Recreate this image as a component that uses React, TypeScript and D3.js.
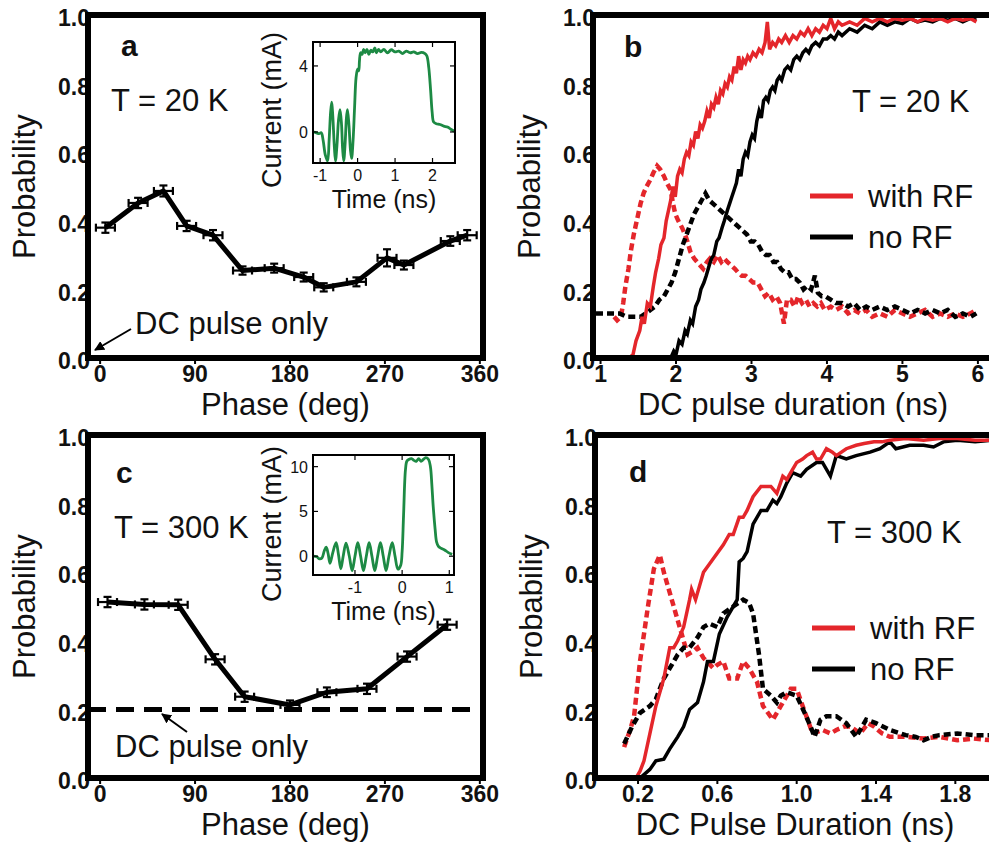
import { useEffect, useRef } from 'react';
import * as d3 from 'd3';

type Pt = [number, number];
type Box = { left: number; right: number; top: number; bottom: number };

const FONT = "'Liberation Sans', Arial, Helvetica, sans-serif";
const RED = '#e4262b';
const GREEN = '#1d8a44';

// ---- axis ticks ----
const probTicks = [0, 0.2, 0.4, 0.6, 0.8, 1.0];
const phaseTicks = [0, 90, 180, 270, 360];
const durationTicksB = [1, 2, 3, 4, 5, 6];
const durationTicksD = [0.2, 0.6, 1.0, 1.4, 1.8];

// ---- panel a: T = 20 K, probability vs phase ----
const phaseA = [5, 36, 60, 82, 107, 135, 165, 193, 212, 243, 272, 288, 332, 348];
const probA = [0.38, 0.452, 0.487, 0.385, 0.358, 0.255, 0.262, 0.236, 0.206, 0.222, 0.292, 0.271, 0.341, 0.358];
const errA = [0.015, 0.015, 0.016, 0.015, 0.015, 0.012, 0.013, 0.013, 0.012, 0.013, 0.025, 0.013, 0.014, 0.015];

// ---- panel c: T = 300 K ----
const phaseC = [7, 42, 74, 109, 137, 180, 215, 253, 291, 329];
const probC = [0.513, 0.506, 0.505, 0.346, 0.237, 0.213, 0.25, 0.26, 0.354, 0.447];
const errC = [0.015, 0.015, 0.015, 0.015, 0.015, 0.013, 0.014, 0.015, 0.015, 0.015];
const dcOnlyC = 0.2;

// ---- insets: pulse waveforms (time ns, current mA) ----
const insetA: Pt[] = [
  [-1.17, 0.0], [-1.1, -0.05], [-1.03, -0.1], [-0.97, -0.05], [-0.92, -0.5], [-0.86, -1.4], [-0.8, -1.75],
  [-0.76, -0.5], [-0.72, 1.2], [-0.69, 1.8], [-0.66, 0.9], [-0.62, -0.9], [-0.59, -1.75], [-0.55, -0.8],
  [-0.51, 0.7], [-0.47, 1.35], [-0.43, 0.5], [-0.4, -1.0], [-0.37, -1.75], [-0.33, -0.6], [-0.3, 0.8],
  [-0.27, 1.35], [-0.23, 0.4], [-0.19, -1.1], [-0.16, -1.6], [-0.12, -0.5], [-0.08, 1.5], [-0.04, 3.3],
  [0.0, 3.8], [0.03, 3.7], [0.05, 4.3], [0.08, 4.8], [0.12, 4.7], [0.16, 5.0], [0.2, 4.8], [0.25, 5.0],
  [0.3, 4.7], [0.35, 4.95], [0.4, 4.85], [0.46, 5.1], [0.5, 4.8], [0.56, 5.0], [0.62, 4.85], [0.7, 5.0],
  [0.8, 4.8], [0.9, 4.98], [1.0, 4.85], [1.1, 4.9], [1.2, 4.75], [1.3, 4.9], [1.4, 4.8], [1.5, 4.85],
  [1.6, 4.75], [1.7, 4.82], [1.8, 4.75], [1.85, 4.6], [1.9, 3.9], [1.95, 2.5], [1.99, 1.2], [2.03, 0.6],
  [2.1, 0.5], [2.2, 0.45], [2.3, 0.35], [2.4, 0.3], [2.5, 0.15], [2.58, 0.05],
];
const insetC: Pt[] = [
  [-1.89, 0.0], [-1.81, -0.07], [-1.75, -0.3], [-1.7, -0.2], [-1.65, 0.6], [-1.61, 1.0], [-1.57, 0.3],
  [-1.53, -0.8], [-1.47, 0.4], [-1.4, 1.5], [-1.35, 0.2], [-1.3, -1.4], [-1.25, 0.0], [-1.19, 1.45],
  [-1.12, 0.0], [-1.06, -1.6], [-1.0, 0.0], [-0.94, 1.5], [-0.88, 0.0], [-0.82, -1.6], [-0.76, 0.0],
  [-0.7, 1.5], [-0.64, 0.0], [-0.58, -1.6], [-0.52, 0.0], [-0.46, 1.5], [-0.4, 0.0], [-0.34, -1.6],
  [-0.28, 0.0], [-0.21, 1.5], [-0.15, 0.0], [-0.09, -1.45], [-0.03, -1.0], [0.0, 0.5], [0.03, 4.5],
  [0.07, 9.6], [0.1, 10.6], [0.14, 10.8], [0.2, 10.9], [0.25, 10.7], [0.3, 10.6], [0.35, 10.9],
  [0.4, 10.6], [0.45, 10.8], [0.5, 11.0], [0.56, 10.8], [0.6, 10.0], [0.63, 8.0], [0.66, 5.5],
  [0.7, 3.0], [0.73, 1.6], [0.77, 1.1], [0.82, 0.9], [0.9, 0.7], [0.98, 0.4], [1.06, 0.2],
];

// ---- panel b: T = 20 K vs DC pulse duration ----
const bWithRf: Pt[] = [
  [1.22, 0], [1.3, 0], [1.38, 0], [1.43, 0.01], [1.47, 0.05], [1.52, 0.08], [1.55, 0.12], [1.58, 0.1],
  [1.62, 0.16], [1.66, 0.15], [1.7, 0.21], [1.73, 0.25], [1.77, 0.29], [1.8, 0.33], [1.84, 0.35],
  [1.87, 0.4], [1.9, 0.43], [1.93, 0.46], [1.96, 0.5], [1.99, 0.47], [2.02, 0.53], [2.05, 0.55],
  [2.08, 0.54], [2.11, 0.58], [2.14, 0.6], [2.17, 0.59], [2.2, 0.63], [2.23, 0.62], [2.26, 0.66],
  [2.29, 0.64], [2.32, 0.68], [2.35, 0.67], [2.38, 0.69], [2.41, 0.72], [2.44, 0.7], [2.47, 0.74],
  [2.5, 0.73], [2.53, 0.76], [2.56, 0.74], [2.59, 0.78], [2.62, 0.77], [2.65, 0.8], [2.68, 0.79],
  [2.71, 0.82], [2.74, 0.81], [2.77, 0.85], [2.8, 0.83], [2.83, 0.88], [2.86, 0.84], [2.89, 0.87],
  [2.92, 0.86], [2.95, 0.88], [2.98, 0.87], [3.02, 0.89], [3.06, 0.88], [3.1, 0.9], [3.14, 0.89],
  [3.18, 0.92], [3.21, 0.98], [3.24, 0.9], [3.28, 0.92], [3.32, 0.91], [3.36, 0.93], [3.4, 0.92],
  [3.45, 0.94], [3.5, 0.92], [3.55, 0.94], [3.6, 0.93], [3.65, 0.95], [3.7, 0.94], [3.75, 0.96],
  [3.8, 0.94], [3.85, 0.96], [3.9, 0.95], [3.95, 0.97], [4.0, 0.96], [4.05, 0.99], [4.1, 0.96],
  [4.15, 0.98], [4.2, 0.97], [4.3, 0.98], [4.4, 0.97], [4.5, 0.99], [4.6, 0.98], [4.7, 0.99],
  [4.8, 0.98], [4.9, 0.99], [5.0, 0.985], [5.1, 0.99], [5.2, 0.98], [5.3, 0.99], [5.4, 0.985],
  [5.5, 0.99], [5.6, 0.98], [5.7, 0.99], [5.8, 0.985], [5.9, 0.99], [5.98, 0.98],
];
const bNoRf: Pt[] = [
  [1.75, 0], [1.85, 0], [1.93, 0], [1.97, 0.02], [2.0, 0.01], [2.04, 0.05], [2.08, 0.04], [2.12, 0.08],
  [2.15, 0.07], [2.19, 0.11], [2.22, 0.1], [2.26, 0.15], [2.3, 0.17], [2.33, 0.2], [2.37, 0.22],
  [2.4, 0.24], [2.44, 0.27], [2.47, 0.29], [2.5, 0.3], [2.54, 0.34], [2.57, 0.35], [2.61, 0.38],
  [2.64, 0.4], [2.68, 0.43], [2.71, 0.45], [2.74, 0.47], [2.77, 0.49], [2.8, 0.51], [2.83, 0.55],
  [2.86, 0.53], [2.89, 0.58], [2.92, 0.6], [2.95, 0.59], [2.98, 0.63], [3.01, 0.65], [3.04, 0.64],
  [3.07, 0.69], [3.1, 0.72], [3.13, 0.7], [3.16, 0.75], [3.19, 0.76], [3.22, 0.75], [3.25, 0.78],
  [3.28, 0.79], [3.31, 0.78], [3.34, 0.81], [3.37, 0.82], [3.4, 0.81], [3.44, 0.84], [3.48, 0.85],
  [3.52, 0.84], [3.56, 0.87], [3.6, 0.88], [3.64, 0.87], [3.68, 0.89], [3.72, 0.9], [3.76, 0.89],
  [3.8, 0.91], [3.85, 0.92], [3.9, 0.91], [3.95, 0.93], [4.0, 0.93], [4.05, 0.94], [4.1, 0.93],
  [4.15, 0.95], [4.2, 0.94], [4.3, 0.96], [4.4, 0.95], [4.5, 0.97], [4.6, 0.96], [4.7, 0.98],
  [4.8, 0.97], [4.9, 0.98], [5.0, 0.975], [5.1, 0.99], [5.2, 0.98], [5.3, 0.985], [5.4, 0.98],
  [5.5, 0.99], [5.6, 0.985], [5.7, 0.99], [5.8, 0.98], [5.9, 0.99], [5.98, 0.985],
];
const bWithRfDash: Pt[] = [
  [1.18, 0.12], [1.22, 0.11], [1.27, 0.12], [1.3, 0.16], [1.33, 0.21], [1.37, 0.26], [1.4, 0.31],
  [1.44, 0.36], [1.49, 0.41], [1.53, 0.45], [1.57, 0.48], [1.61, 0.5], [1.66, 0.52], [1.7, 0.54],
  [1.75, 0.56], [1.79, 0.55], [1.84, 0.53], [1.88, 0.51], [1.93, 0.49], [1.96, 0.45], [1.99, 0.42],
  [2.03, 0.4], [2.08, 0.38], [2.12, 0.36], [2.15, 0.34], [2.19, 0.31], [2.24, 0.29], [2.28, 0.28],
  [2.32, 0.27], [2.36, 0.26], [2.41, 0.28], [2.45, 0.29], [2.5, 0.28], [2.55, 0.3], [2.6, 0.28],
  [2.64, 0.29], [2.68, 0.28], [2.73, 0.27], [2.78, 0.26], [2.82, 0.25], [2.87, 0.24], [2.92, 0.24],
  [2.97, 0.23], [3.02, 0.22], [3.08, 0.22], [3.13, 0.2], [3.18, 0.18], [3.23, 0.19], [3.28, 0.17],
  [3.33, 0.18], [3.38, 0.16], [3.43, 0.1], [3.47, 0.17], [3.52, 0.17], [3.57, 0.15], [3.62, 0.18],
  [3.67, 0.16], [3.72, 0.17], [3.77, 0.15], [3.82, 0.16], [3.87, 0.15], [3.92, 0.16], [3.97, 0.14],
  [4.05, 0.15], [4.12, 0.14], [4.2, 0.15], [4.28, 0.13], [4.36, 0.14], [4.44, 0.13], [4.52, 0.14],
  [4.6, 0.12], [4.7, 0.13], [4.8, 0.12], [4.9, 0.14], [5.0, 0.13], [5.1, 0.12], [5.2, 0.13],
  [5.3, 0.14], [5.4, 0.12], [5.5, 0.13], [5.6, 0.12], [5.7, 0.13], [5.8, 0.12], [5.9, 0.13], [5.98, 0.14],
];
const bNoRfDash: Pt[] = [
  [0.94, 0.13], [1.05, 0.13], [1.15, 0.13], [1.25, 0.13], [1.35, 0.12], [1.45, 0.12], [1.53, 0.12],
  [1.6, 0.13], [1.66, 0.14], [1.72, 0.15], [1.78, 0.17], [1.84, 0.18], [1.89, 0.2], [1.94, 0.22],
  [1.99, 0.25], [2.04, 0.29], [2.09, 0.33], [2.14, 0.36], [2.19, 0.39], [2.24, 0.42], [2.29, 0.44],
  [2.34, 0.46], [2.39, 0.48], [2.44, 0.46], [2.49, 0.45], [2.54, 0.44], [2.59, 0.43], [2.64, 0.42],
  [2.69, 0.41], [2.74, 0.4], [2.79, 0.39], [2.84, 0.38], [2.89, 0.37], [2.94, 0.36], [2.99, 0.34],
  [3.04, 0.34], [3.09, 0.33], [3.14, 0.31], [3.19, 0.3], [3.24, 0.3], [3.29, 0.28], [3.34, 0.28],
  [3.39, 0.26], [3.44, 0.25], [3.49, 0.25], [3.54, 0.23], [3.59, 0.23], [3.64, 0.22], [3.69, 0.2],
  [3.74, 0.21], [3.79, 0.2], [3.84, 0.24], [3.88, 0.19], [3.93, 0.18], [3.98, 0.18], [4.05, 0.17],
  [4.12, 0.16], [4.2, 0.16], [4.28, 0.15], [4.36, 0.16], [4.44, 0.14], [4.52, 0.15], [4.6, 0.14],
  [4.7, 0.15], [4.8, 0.14], [4.9, 0.15], [5.0, 0.14], [5.1, 0.13], [5.2, 0.14], [5.3, 0.13],
  [5.4, 0.14], [5.5, 0.13], [5.6, 0.14], [5.7, 0.12], [5.8, 0.13], [5.9, 0.12], [5.98, 0.13],
];

// ---- panel d: T = 300 K vs DC pulse duration ----
const dWithRf: Pt[] = [
  [0.09, 0], [0.14, 0], [0.19, 0], [0.21, 0.02], [0.23, 0.05], [0.26, 0.13], [0.29, 0.21], [0.33, 0.29],
  [0.36, 0.38], [0.38, 0.38], [0.4, 0.4], [0.43, 0.44], [0.46, 0.52], [0.47, 0.55], [0.49, 0.52],
  [0.53, 0.6], [0.58, 0.64], [0.63, 0.68], [0.66, 0.71], [0.68, 0.71], [0.71, 0.76], [0.73, 0.76],
  [0.75, 0.78], [0.78, 0.82], [0.82, 0.85], [0.87, 0.85], [0.9, 0.83], [0.93, 0.88], [0.95, 0.87],
  [0.97, 0.89], [1.0, 0.92], [1.03, 0.93], [1.05, 0.94], [1.08, 0.95], [1.1, 0.93], [1.12, 0.93],
  [1.15, 0.96], [1.18, 0.95], [1.2, 0.94], [1.25, 0.96], [1.3, 0.97], [1.34, 0.975], [1.39, 0.98],
  [1.43, 0.98], [1.47, 0.985], [1.55, 0.99], [1.64, 0.985], [1.72, 0.99], [1.81, 0.99], [1.9, 0.985], [1.98, 0.985],
];
const dNoRf: Pt[] = [
  [0.09, 0], [0.15, 0], [0.21, 0], [0.24, 0.015], [0.26, 0.025], [0.29, 0.05], [0.33, 0.055],
  [0.36, 0.085], [0.4, 0.12], [0.43, 0.15], [0.46, 0.2], [0.5, 0.22], [0.53, 0.28], [0.55, 0.34],
  [0.58, 0.34], [0.61, 0.42], [0.65, 0.47], [0.68, 0.5], [0.7, 0.52], [0.71, 0.63], [0.73, 0.64],
  [0.75, 0.66], [0.78, 0.74], [0.82, 0.78], [0.85, 0.78], [0.88, 0.81], [0.9, 0.8], [0.92, 0.82],
  [0.95, 0.86], [0.98, 0.89], [1.02, 0.88], [1.05, 0.9], [1.1, 0.92], [1.13, 0.92], [1.17, 0.88],
  [1.2, 0.94], [1.25, 0.93], [1.3, 0.94], [1.37, 0.95], [1.42, 0.96], [1.47, 0.98], [1.5, 0.96],
  [1.57, 0.97], [1.64, 0.97], [1.69, 0.965], [1.74, 0.98], [1.81, 0.985], [1.9, 0.98], [1.98, 0.985],
];
const dWithRfDash: Pt[] = [
  [0.13, 0.09], [0.16, 0.14], [0.18, 0.18], [0.21, 0.34], [0.25, 0.5], [0.28, 0.61], [0.31, 0.65],
  [0.33, 0.6], [0.35, 0.56], [0.38, 0.5], [0.41, 0.44], [0.45, 0.36], [0.48, 0.37], [0.5, 0.38],
  [0.53, 0.35], [0.58, 0.32], [0.6, 0.33], [0.63, 0.34], [0.66, 0.29], [0.7, 0.29], [0.73, 0.34],
  [0.76, 0.32], [0.8, 0.28], [0.83, 0.21], [0.88, 0.17], [0.92, 0.21], [0.97, 0.26], [1.0, 0.26],
  [1.03, 0.21], [1.08, 0.13], [1.13, 0.14], [1.17, 0.13], [1.2, 0.14], [1.24, 0.15], [1.27, 0.15],
  [1.32, 0.13], [1.36, 0.16], [1.39, 0.15], [1.43, 0.13], [1.47, 0.12], [1.55, 0.12], [1.64, 0.115],
  [1.72, 0.12], [1.81, 0.11], [1.89, 0.115], [1.98, 0.11],
];
const dNoRfDash: Pt[] = [
  [0.13, 0.1], [0.17, 0.15], [0.21, 0.19], [0.26, 0.21], [0.29, 0.23], [0.33, 0.29], [0.36, 0.32],
  [0.4, 0.36], [0.43, 0.38], [0.46, 0.38], [0.5, 0.41], [0.53, 0.44], [0.56, 0.45], [0.6, 0.44],
  [0.63, 0.48], [0.68, 0.5], [0.73, 0.52], [0.76, 0.51], [0.78, 0.48], [0.81, 0.36], [0.83, 0.26],
  [0.87, 0.24], [0.9, 0.22], [0.92, 0.24], [0.95, 0.25], [1.0, 0.24], [1.04, 0.19], [1.07, 0.15],
  [1.09, 0.12], [1.12, 0.17], [1.15, 0.18], [1.2, 0.18], [1.25, 0.16], [1.3, 0.12], [1.35, 0.17],
  [1.4, 0.16], [1.47, 0.14], [1.55, 0.125], [1.6, 0.12], [1.64, 0.11], [1.68, 0.12], [1.72, 0.125],
  [1.81, 0.13], [1.89, 0.125], [1.98, 0.125],
];

function addText(g: any, x: number, y: number, s: string, size: number, bold = false, anchor = 'start') {
  return g.append('text')
    .attr('x', x)
    .attr('y', y)
    .attr('font-family', FONT)
    .attr('font-size', size)
    .attr('font-weight', bold ? 'bold' : 'normal')
    .attr('text-anchor', anchor)
    .attr('fill', '#111')
    .text(s);
}

// tick labels, titles; the thick frame is drawn later on top
function drawAxes(g: any, box: Box, x: any, y: any, xTicks: number[], xFmt: (d: number) => string, xTitle: string) {
  g.append('g').selectAll('text').data(probTicks).join('text')
    .attr('x', box.left + 2)
    .attr('y', (d: number) => y(d) + 3)
    .attr('dy', '0.36em')
    .attr('text-anchor', 'end')
    .attr('fill', '#111')
    .attr('font-family', FONT).attr('font-size', 23).attr('font-weight', 'bold')
    .text((d: number) => d.toFixed(1));

  g.append('g').selectAll('text').data(xTicks).join('text')
    .attr('x', (d: number) => x(d))
    .attr('y', box.bottom + 24)
    .attr('text-anchor', 'middle')
    .attr('fill', '#111')
    .attr('font-family', FONT).attr('font-size', 23).attr('font-weight', 'bold')
    .text(xFmt);

  g.append('g').selectAll('line').data(xTicks).join('line')
    .attr('x1', (d: number) => x(d)).attr('x2', (d: number) => x(d))
    .attr('y1', box.bottom).attr('y2', box.bottom + 6)
    .attr('stroke', '#000').attr('stroke-width', 2);

  addText(g, (box.left + box.right) / 2, box.bottom + 57, xTitle, 31, false, 'middle');
  addText(g, 0, 0, 'Probability', 31, false, 'middle')
    .attr('transform', `translate(${box.left - 53},${(box.top + box.bottom) / 2}) rotate(-90)`);
}

function drawFrame(g: any, box: Box) {
  g.append('rect')
    .attr('x', box.left).attr('y', box.top)
    .attr('width', box.right - box.left).attr('height', box.bottom - box.top)
    .attr('fill', 'none').attr('stroke', '#000').attr('stroke-width', 6);
}

function drawPhasePanel(g: any, box: Box, phases: number[], probs: number[], errs: number[]) {
  const x = d3.scaleLinear().domain([-11.5, 363]).range([box.left, box.right]);
  const y = d3.scaleLinear().domain([0, 1]).range([box.bottom, box.top]);
  drawAxes(g, box, x, y, phaseTicks, (d) => String(d), 'Phase (deg)');

  const pts = phases.map((p, i) => ({ p, v: probs[i], e: errs[i] }));
  const line = d3.line<any>().x((d) => x(d.p)).y((d) => y(d.v));
  g.append('path').datum(pts).attr('d', line)
    .attr('fill', 'none').attr('stroke', '#000').attr('stroke-width', 5).attr('stroke-linejoin', 'round');

  const eb = g.append('g').attr('stroke', '#000').attr('stroke-width', 2.2);
  pts.forEach((d) => {
    const cx = x(d.p), cy = y(d.v);
    const y0 = y(d.v - d.e), y1 = y(d.v + d.e);
    const x0 = x(d.p - 9), x1 = x(d.p + 9);
    eb.append('line').attr('x1', cx).attr('x2', cx).attr('y1', y0).attr('y2', y1);
    eb.append('line').attr('x1', cx - 4).attr('x2', cx + 4).attr('y1', y0).attr('y2', y0);
    eb.append('line').attr('x1', cx - 4).attr('x2', cx + 4).attr('y1', y1).attr('y2', y1);
    eb.append('line').attr('x1', x0).attr('x2', x1).attr('y1', cy).attr('y2', cy);
    eb.append('line').attr('x1', x0).attr('x2', x0).attr('y1', cy - 4).attr('y2', cy + 4);
    eb.append('line').attr('x1', x1).attr('x2', x1).attr('y1', cy - 4).attr('y2', cy + 4);
  });
  return { x, y };
}

function drawDurationPanel(g: any, box: Box, xDomain: [number, number], xTicks: number[], xFmt: (d: number) => string,
  xTitle: string, series: { data: Pt[]; color: string; dashed: boolean }[], clipId: string) {
  const x = d3.scaleLinear().domain(xDomain).range([box.left, box.right]);
  const y = d3.scaleLinear().domain([0, 1]).range([box.bottom, box.top]);
  drawAxes(g, box, x, y, xTicks, xFmt, xTitle);

  g.append('clipPath').attr('id', clipId).append('rect')
    .attr('x', box.left).attr('y', box.top).attr('width', box.right - box.left).attr('height', box.bottom - box.top);

  const line = d3.line<Pt>().x((d) => x(d[0])).y((d) => y(d[1]));
  const lines = g.append('g').attr('clip-path', `url(#${clipId})`);
  series.forEach((s) => {
    lines.append('path').datum(s.data).attr('d', line)
      .attr('fill', 'none').attr('stroke', s.color)
      .attr('stroke-width', s.dashed ? 4.5 : 3.5)
      .attr('stroke-dasharray', s.dashed ? '7,4' : null)
      .attr('stroke-linejoin', 'miter');
  });
}

function drawLegend(g: any, left: number, top: number) {
  [['with RF', RED], ['no RF', '#000']].forEach(([label, color], i) => {
    const cy = top + i * 41;
    g.append('line').attr('x1', left).attr('x2', left + 43).attr('y1', cy).attr('y2', cy)
      .attr('stroke', color).attr('stroke-width', 5);
    addText(g, left + 58, cy + 11, label, 31);
  });
}

function drawInset(g: any, box: Box, xDomain: [number, number], yDomain: [number, number],
  xTicks: number[], yTicks: number[], data: Pt[], yTitleY: number) {
  const x = d3.scaleLinear().domain(xDomain).range([box.left, box.right]);
  const y = d3.scaleLinear().domain(yDomain).range([box.bottom, box.top]);

  g.append('rect').attr('x', box.left).attr('y', box.top)
    .attr('width', box.right - box.left).attr('height', box.bottom - box.top).attr('fill', '#fff');

  const line = d3.line<Pt>().x((d) => x(d[0])).y((d) => y(d[1])).curve(d3.curveCatmullRom);
  g.append('path').datum(data).attr('d', line)
    .attr('fill', 'none').attr('stroke', GREEN).attr('stroke-width', 2.8).attr('stroke-linejoin', 'round');

  const ticks = g.append('g').attr('stroke', '#000').attr('stroke-width', 1.2);
  xTicks.forEach((t) => {
    ticks.append('line').attr('x1', x(t)).attr('x2', x(t)).attr('y1', box.bottom).attr('y2', box.bottom - 5);
    ticks.append('line').attr('x1', x(t)).attr('x2', x(t)).attr('y1', box.top).attr('y2', box.top + 5);
    addText(g, x(t), box.bottom + 18, t < 0 ? `-${Math.abs(t)}` : String(t), 16, false, 'middle');
  });
  yTicks.forEach((t) => {
    ticks.append('line').attr('x1', box.left).attr('x2', box.left + 5).attr('y1', y(t)).attr('y2', y(t));
    ticks.append('line').attr('x1', box.right).attr('x2', box.right - 5).attr('y1', y(t)).attr('y2', y(t));
    addText(g, box.left - 5, y(t) + 6, String(t), 16, false, 'end');
  });

  g.append('rect').attr('x', box.left).attr('y', box.top)
    .attr('width', box.right - box.left).attr('height', box.bottom - box.top)
    .attr('fill', 'none').attr('stroke', '#000').attr('stroke-width', 2);

  addText(g, (box.left + box.right) / 2, box.bottom + 45, 'Time (ns)', 25, false, 'middle');
  addText(g, 0, 0, 'Current (mA)', 27, false, 'middle')
    .attr('transform', `translate(${box.left - 32},${yTitleY}) rotate(-90)`);
}

function drawArrow(g: any, x1: number, y1: number, x2: number, y2: number) {
  g.append('line').attr('x1', x1).attr('y1', y1).attr('x2', x2).attr('y2', y2)
    .attr('stroke', '#000').attr('stroke-width', 2).attr('marker-end', 'url(#arrowHead)');
}

function App() {
  const svgRef = useRef<SVGSVGElement>(null);

  useEffect(() => {
    if (!svgRef.current) return;
    const svg = d3.select(svgRef.current);
    svg.selectAll('*').remove();

    svg.append('defs').append('marker')
      .attr('id', 'arrowHead').attr('viewBox', '0 0 10 10')
      .attr('refX', 9).attr('refY', 5)
      .attr('markerWidth', 5).attr('markerHeight', 5)
      .attr('orient', 'auto')
      .append('path').attr('d', 'M0,0 L10,5 L0,10 z').attr('fill', '#000');

    const boxA: Box = { left: 88, right: 483, top: 15, bottom: 358 };
    const boxB: Box = { left: 593, right: 993, top: 15, bottom: 358 };
    const boxC: Box = { left: 88, right: 483, top: 435, bottom: 778 };
    const boxD: Box = { left: 595, right: 995, top: 435, bottom: 778 };

    // panel a
    const ga = svg.append('g');
    drawPhasePanel(ga, boxA, phaseA, probA, errA);
    drawFrame(ga, boxA);
    addText(ga, 121, 56, 'a', 30, true);
    addText(ga, 111, 111, 'T = 20 K', 31);
    addText(ga, 135, 334, 'DC pulse only', 31);
    drawArrow(ga, 131, 329, 95, 350);
    drawInset(ga, { left: 313, right: 455, top: 42, bottom: 163 }, [-1.19, 2.6], [-1.88, 5.45],
      [-1, 0, 1, 2], [0, 4], insetA, 110);

    // panel b
    const gb = svg.append('g');
    drawDurationPanel(gb, boxB, [0.9, 6.2], durationTicksB, (d) => String(d), 'DC pulse duration (ns)', [
      { data: bWithRfDash, color: RED, dashed: true },
      { data: bNoRfDash, color: '#000', dashed: true },
      { data: bNoRf, color: '#000', dashed: false },
      { data: bWithRf, color: RED, dashed: false },
    ], 'clipB');
    drawFrame(gb, boxB);
    addText(gb, 624, 57, 'b', 30, true);
    addText(gb, 852, 112, 'T = 20 K', 31);
    drawLegend(gb, 810, 196);

    // panel c
    const gc = svg.append('g');
    const c = drawPhasePanel(gc, boxC, phaseC, probC, errC);
    gc.append('line')
      .attr('x1', boxC.left).attr('x2', boxC.right)
      .attr('y1', c.y(dcOnlyC)).attr('y2', c.y(dcOnlyC))
      .attr('stroke', '#000').attr('stroke-width', 5).attr('stroke-dasharray', '18,10');
    drawFrame(gc, boxC);
    addText(gc, 116, 483, 'c', 30, true);
    addText(gc, 114, 538, 'T = 300 K', 31);
    addText(gc, 115, 757, 'DC pulse only', 31);
    drawArrow(gc, 187, 732, 162, 714);
    drawInset(gc, { left: 313, right: 454, top: 455, bottom: 575 }, [-1.89, 1.1], [-2.1, 11.3],
      [-1, 0, 1], [0, 5, 10], insetC, 524);

    // panel d
    const gd = svg.append('g');
    drawDurationPanel(gd, boxD, [-0.017, 2.0], durationTicksD, (d) => d.toFixed(1), 'DC Pulse Duration (ns)', [
      { data: dWithRfDash, color: RED, dashed: true },
      { data: dNoRfDash, color: '#000', dashed: true },
      { data: dNoRf, color: '#000', dashed: false },
      { data: dWithRf, color: RED, dashed: false },
    ], 'clipD');
    drawFrame(gd, boxD);
    addText(gd, 629, 482, 'd', 30, true);
    addText(gd, 827, 543, 'T = 300 K', 31);
    drawLegend(gd, 812, 628);
  }, []);

  return (
    <svg ref={svgRef} width={989} height={850}
      style={{ position: 'absolute', left: 0, top: 0, background: '#fff' }} />
  );
}

export default App;
